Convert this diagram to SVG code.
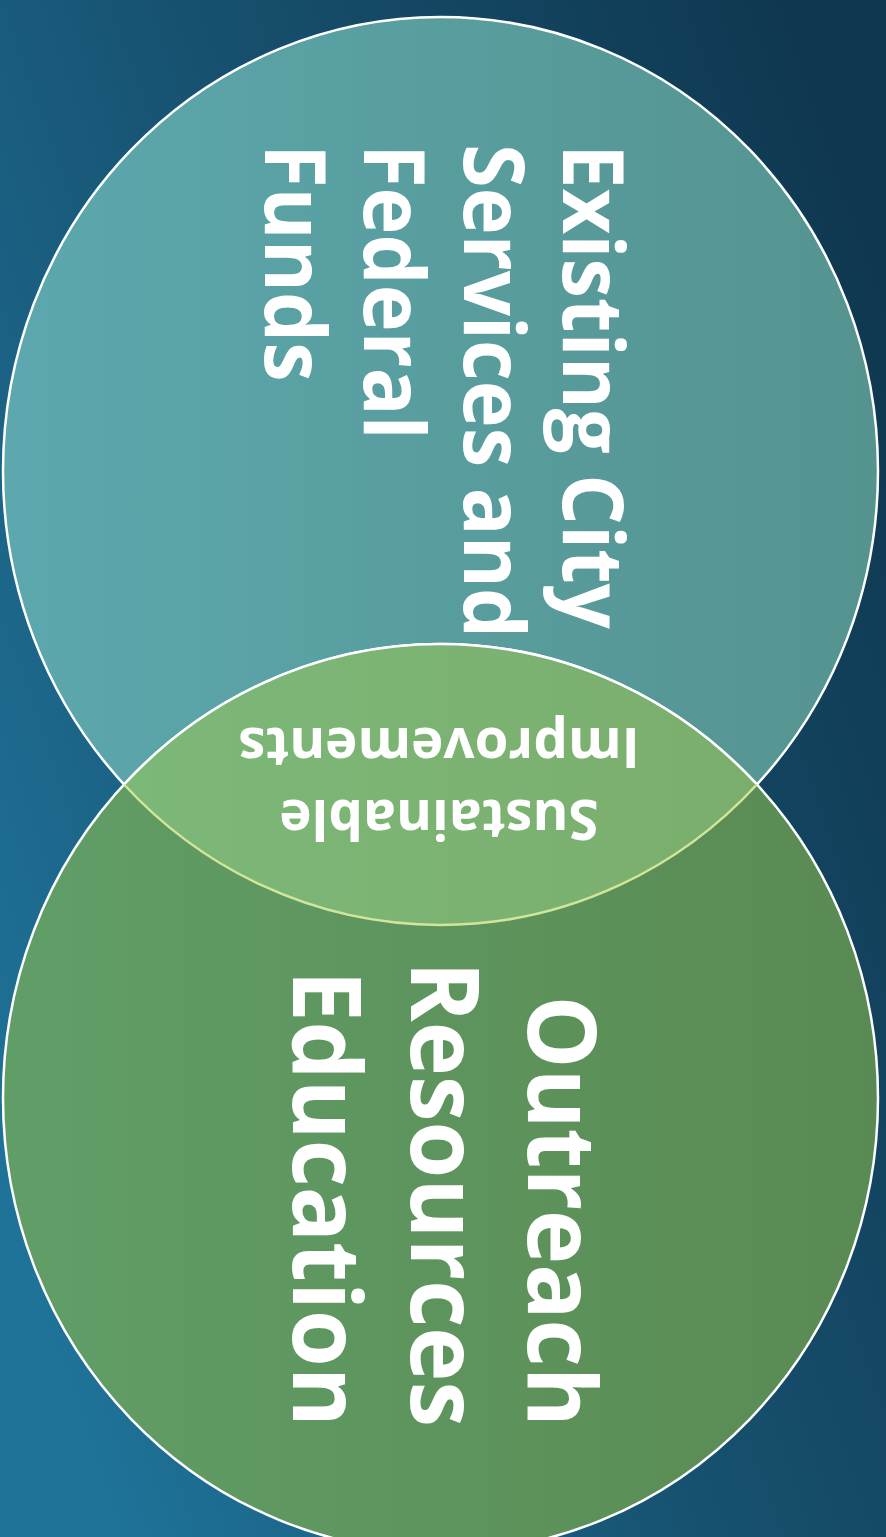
<svg xmlns="http://www.w3.org/2000/svg" width="886" height="1537" viewBox="0 0 886 1537">
  <defs>
    <linearGradient id="bg" x1="0" y1="0.8" x2="1" y2="0.2">
      <stop offset="0" stop-color="#1f7399"/>
      <stop offset="0.5" stop-color="#175170"/>
      <stop offset="1" stop-color="#0f3850"/>
    </linearGradient>
    <linearGradient id="tealFill" x1="0" y1="0" x2="1" y2="0">
      <stop offset="0" stop-color="#5ca8ae"/>
      <stop offset="1" stop-color="#55938f"/>
    </linearGradient>
    <linearGradient id="greenFill" x1="0" y1="0" x2="1" y2="0">
      <stop offset="0" stop-color="#619e67"/>
      <stop offset="1" stop-color="#5a8a53"/>
    </linearGradient>
    <linearGradient id="lensFill" x1="0" y1="0" x2="1" y2="0">
      <stop offset="0" stop-color="#7cb878"/>
      <stop offset="1" stop-color="#7bae6d"/>
    </linearGradient>
  </defs>
  <style>
    .lbl { font-family: "Open Sans", "Liberation Sans", sans-serif; font-weight: 700; fill: #ffffff; }
    .outline { stroke: #ffffff; stroke-width: 2.5; }
  </style>
  <rect x="0" y="0" width="886" height="1537" fill="url(#bg)"/>

  <g id="node-existing">
    <ellipse class="outline" cx="440.5" cy="471" rx="437.5" ry="454" fill="url(#tealFill)"/>
  </g>
  <g id="node-outreach">
    <ellipse class="outline" cx="440.5" cy="1098" rx="437.5" ry="454" fill="url(#greenFill)"/>
  </g>
  <g id="node-overlap">
    <path d="M124.1,784.5 A437.5,454 0 0 1 756.9,784.5 A437.5,454 0 0 1 124.1,784.5 Z" fill="url(#lensFill)"/>
    <path d="M124.1,784.5 A437.5,454 0 0 1 756.9,784.5" fill="none" stroke="#ffffff" stroke-width="2.5"/>
    <path d="M756.9,784.5 A437.5,454 0 0 1 124.1,784.5" fill="none" stroke="#d3e59a" stroke-width="2.5"/>
  </g>

  <g id="connectors"></g>

  <g id="labels">
    <text class="lbl" font-size="84" transform="translate(563,144) rotate(90) scale(0.945,1)"><tspan x="0" y="0">Existing City</tspan><tspan x="0" dy="99.5">Services and</tspan><tspan x="0" dy="99.5">Federal</tspan><tspan x="0" dy="99.5">Funds</tspan></text>
    <text class="lbl" font-size="56" text-anchor="middle" transform="translate(439,800) rotate(180) scale(0.977,1)"><tspan x="0" y="0">Sustainable</tspan><tspan x="0" dy="72">Improvements</tspan></text>
    <text class="lbl" font-size="95" text-anchor="end" transform="translate(528,1427) rotate(90) scale(0.965,1)"><tspan x="0" y="0">Outreach</tspan><tspan x="0" dy="117.5">Resources</tspan><tspan x="0" dy="117.5">Education</tspan></text>
  </g>
</svg>
